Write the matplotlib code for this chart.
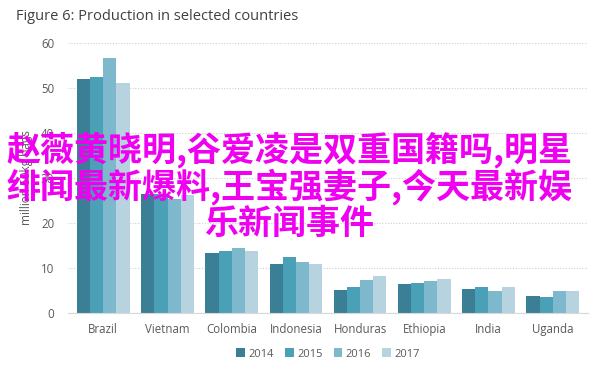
import matplotlib
matplotlib.use("Agg")
import matplotlib.pyplot as plt
import numpy as np

plt.rcParams['font.family'] = ['Open Sans', 'DejaVu Sans']

countries = ["Brazil", "Vietnam", "Colombia", "Indonesia", "Honduras", "Ethiopia", "India", "Uganda"]
years = ["2014", "2015", "2016", "2017"]
v2014 = [52.1, 26.4, 13.3, 10.8, 5.1, 6.4, 5.3, 3.7]
v2015 = [52.4, 26.5, 13.8, 12.5, 5.7, 6.6, 5.7, 3.6]
v2016 = [56.7, 25.3, 14.5, 11.3, 7.3, 7.2, 5.0, 4.9]
v2017 = [51.0, 26.2, 13.8, 10.8, 8.2, 7.6, 5.8, 5.0]
series = [v2014, v2015, v2016, v2017]
colors = ["#3b7f96", "#4aa0b6", "#7eb8cc", "#b6d3df"]
yticks = [0, 10, 20, 30, 40, 50, 60]

title = "Figure 6: Production in selected countries"
ylabel = "million 60kg bags"
overlay = "赵薇黄晓明,谷爱凌是双重国籍吗,明星\n绯闻最新爆料,王宝强妻子,今天最新娱\n乐新闻事件"

fig = plt.figure(figsize=(6.12, 3.66), dpi=100)
ax = fig.add_axes([68/612, 1-313/366, (588-68)/612, (313-43)/366])

x = np.arange(len(countries))
bw = 0.205
for i, (vals, c, yr) in enumerate(zip(series, colors, years)):
    ax.bar(x + (i - 1.5) * bw, vals, bw, color=c, label=yr, edgecolor='none')

ax.set_ylim(0, 60)
ax.set_xlim(-0.55, len(countries) - 0.45)
ax.set_yticks(yticks)
ax.set_xticks(x)
ax.set_xticklabels(countries)
ax.tick_params(axis='both', length=0, labelsize=8.3, colors='#595959', pad=7)
ax.tick_params(axis='y', pad=10)
for s in ['top', 'right', 'left']:
    ax.spines[s].set_visible(False)
ax.spines['bottom'].set_color('#d9d9d9')
ax.yaxis.grid(True, linestyle=(0, (1, 1.5)), color='#d0d0d0', linewidth=0.8)
ax.set_axisbelow(True)
ax.set_ylabel(ylabel, fontsize=8.5, color='#595959', labelpad=6)

fig.text(16/612, 1-17/366, title, fontsize=10.5, color='#404040', va='center', ha='left')

ax.legend(loc='center', bbox_to_anchor=(0.5, -(354-313)/270), ncol=4, frameon=False,
          fontsize=8, handlelength=0.8, handleheight=0.8, columnspacing=1.0,
          handletextpad=0.3, labelcolor='#595959')

fig.text(289/612, 1-186/366, overlay, fontsize=24.5, color='#f000f0', ha='center', va='center',
         family=['Noto Sans CJK SC', 'DejaVu Sans'], weight='bold', linespacing=1.02)

fig.savefig("out.png", dpi=100)
